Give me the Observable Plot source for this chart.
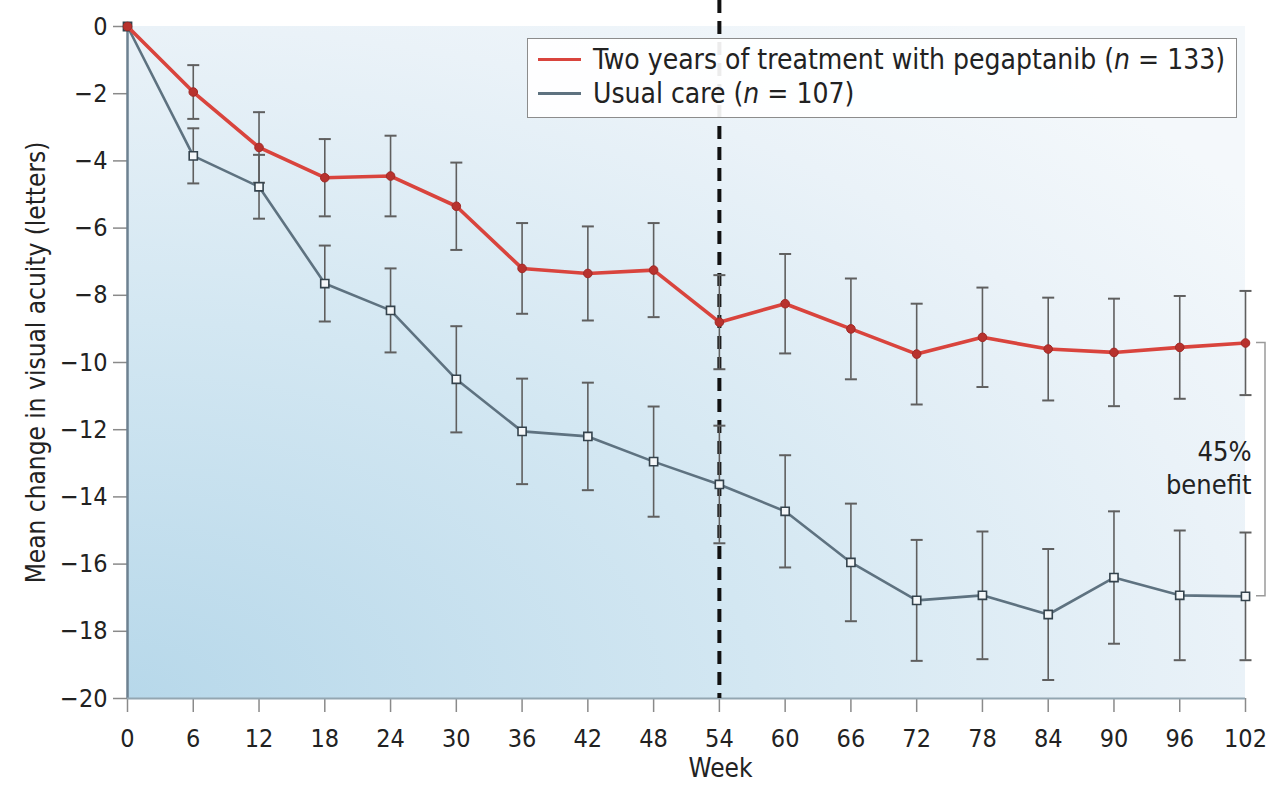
<!DOCTYPE html>
<html>
<head>
<meta charset="utf-8">
<script src="https://cdn.jsdelivr.net/npm/d3@7"></script>
<script src="https://cdn.jsdelivr.net/npm/@observablehq/plot@0.6"></script>
<style>
  html, body { margin: 0; padding: 0; background: #fff; }
  #wrap { position: relative; width: 1276px; height: 785px; font-family: "Liberation Sans Narrow", "DejaVu Sans Condensed", "Liberation Sans", sans-serif; }
  #legend { position: absolute; left: 527px; top: 38px; width: 710px; height: 80px; border: 1.5px solid #8c8c8c; background: rgba(255,255,255,0.92); box-sizing: border-box; color: #222; font-size: 28px; }
  .row { position: absolute; left: 10px; display: flex; align-items: center; white-space: nowrap; }
  .sw { width: 43px; height: 3px; margin-right: 12px; }
</style>
</head>
<body>
<div id="wrap">
  <div id="chart"></div>
  <div id="legend">
    <div class="row" style="top:4px"><div class="sw" style="background:#d9443d"></div><span>Two years of treatment with pegaptanib (<i>n</i> = 133)</span></div>
    <div class="row" style="top:38px"><div class="sw" style="background:#5e7280"></div><span>Usual care (<i>n</i> = 107)</span></div>
  </div>
</div>
<script>
const weeks = [0, 6, 12, 18, 24, 30, 36, 42, 48, 54, 60, 66, 72, 78, 84, 90, 96, 102];
const pegMean = [0, -1.95, -3.6, -4.5, -4.45, -5.35, -7.2, -7.35, -7.25, -8.8, -8.25, -9.0, -9.75, -9.25, -9.6, -9.7, -9.55, -9.42];
const pegErr  = [0, 0.8, 1.05, 1.15, 1.2, 1.3, 1.35, 1.4, 1.4, 1.4, 1.48, 1.5, 1.5, 1.48, 1.53, 1.6, 1.53, 1.55];
const careMean = [0, -3.85, -4.77, -7.65, -8.45, -10.5, -12.05, -12.2, -12.95, -13.63, -14.43, -15.95, -17.08, -16.93, -17.5, -16.4, -16.93, -16.96];
const careErr  = [0, 0.82, 0.95, 1.13, 1.25, 1.58, 1.57, 1.6, 1.64, 1.75, 1.67, 1.75, 1.8, 1.9, 1.95, 1.97, 1.93, 1.9];
const yTicks = [0, -2, -4, -6, -8, -10, -12, -14, -16, -18, -20];
const xTicks = weeks;
const cutoffWeek = 54;
const benefitLabel = "45%\nbenefit";
const yLabel = "Mean change in visual acuity (letters)";
const xLabel = "Week";

const peg = weeks.map((w, i) => ({week: w, mean: pegMean[i], lo: pegMean[i] - pegErr[i], hi: pegMean[i] + pegErr[i], err: pegErr[i]}));
const care = weeks.map((w, i) => ({week: w, mean: careMean[i], lo: careMean[i] - careErr[i], hi: careMean[i] + careErr[i], err: careErr[i]}));
const bars = [...care, ...peg].filter(d => d.err > 0);

const cap = { draw(ctx, size) { const w = Math.sqrt(size / Math.PI); ctx.moveTo(-w, 0); ctx.lineTo(w, 0); } };

const FONT = '"Liberation Sans Narrow", "DejaVu Sans Condensed", "Liberation Sans", sans-serif';

function background(index, scales, values, dims) {
  const g = d3.create("svg:g");
  const defs = g.append("defs");
  const rg = defs.append("radialGradient").attr("id", "bgGrad")
    .attr("cx", "0").attr("cy", "1").attr("r", "1.25").attr("fx", "0").attr("fy", "1");
  rg.append("stop").attr("offset", "0").attr("stop-color", "#b7d8ea");
  rg.append("stop").attr("offset", "0.45").attr("stop-color", "#d3e7f2");
  rg.append("stop").attr("offset", "0.8").attr("stop-color", "#eaf2f8");
  rg.append("stop").attr("offset", "1").attr("stop-color", "#f4f8fb");
  g.append("rect")
    .attr("x", dims.marginLeft).attr("y", dims.marginTop)
    .attr("width", dims.width - dims.marginLeft - dims.marginRight)
    .attr("height", dims.height - dims.marginTop - dims.marginBottom)
    .attr("fill", "url(#bgGrad)");
  return g.node();
}

function bracket(index, scales) {
  const last = weeks.length - 1;
  const X = scales.x(weeks[last]);
  const y1 = scales.y(pegMean[last]), y2 = scales.y(careMean[last]);
  const g = d3.create("svg:g");
  g.append("path")
    .attr("d", `M${X + 11},${y1}H${X + 20}V${y2}H${X + 11}`)
    .attr("fill", "none").attr("stroke", "#9a9a9a").attr("stroke-width", 1.5);
  return g.node();
}

const chart = Plot.plot({
  width: 1276,
  height: 785,
  marginLeft: 127,
  marginRight: 31,
  marginTop: 26,
  marginBottom: 87,
  style: {fontFamily: FONT, fontSize: "25px", color: "#222", background: "transparent", overflow: "visible"},
  x: {domain: [0, 102], ticks: xTicks, label: null},
  y: {domain: [-20, 0], ticks: yTicks, label: null},
  marks: [
    background,
    Plot.axisY({ticks: yTicks, tickSize: 14, tickPadding: 6, stroke: "#8a8a8a", strokeWidth: 1.5, tickFormat: d => d === 0 ? "0" : "\u2212" + Math.abs(d), fontSize: 25, fill: "#222", label: null}),
    Plot.axisX({ticks: xTicks, tickSize: 14, tickPadding: 17, stroke: "#8a8a8a", strokeWidth: 1.5, fontSize: 25, fill: "#222", label: null}),
    Plot.ruleX([0], {stroke: "#6d8190", strokeWidth: 2.5}),
    Plot.ruleY([-20], {stroke: "#93a6b1", strokeWidth: 2}),
    Plot.ruleX([cutoffWeek], {stroke: "#111", strokeWidth: 4, strokeDasharray: "13,8", insetTop: -26}),
    Plot.ruleX(bars, {x: "week", y1: "lo", y2: "hi", stroke: "#5f5f5f", strokeWidth: 1.6}),
    Plot.dot(bars, {x: "week", y: "lo", symbol: cap, r: 6, stroke: "#5f5f5f", strokeWidth: 2}),
    Plot.dot(bars, {x: "week", y: "hi", symbol: cap, r: 6, stroke: "#5f5f5f", strokeWidth: 2}),
    Plot.line(care, {x: "week", y: "mean", stroke: "#5e7280", strokeWidth: 2.6}),
    Plot.dot(care, {x: "week", y: "mean", symbol: "square", r: 4.6, fill: "#f4f7f9", stroke: "#34434d", strokeWidth: 1.6}),
    Plot.line(peg, {x: "week", y: "mean", stroke: "#d9443d", strokeWidth: 3.6}),
    Plot.dot(peg, {x: "week", y: "mean", r: 4.3, fill: "#b8322e", stroke: "#a02a27", strokeWidth: 1}),
    bracket,
    Plot.text([benefitLabel], {x: weeks[weeks.length - 1], y: (pegMean[pegMean.length - 1] + careMean[careMean.length - 1]) / 2, dx: 6, dy: -3, textAnchor: "end", lineHeight: 1.25, fontSize: 27, fill: "#222"}),
    Plot.text([yLabel], {frameAnchor: "left", textAnchor: "middle", rotate: -90, dx: -91, fontSize: 26, fill: "#222"}),
    Plot.text([xLabel], {frameAnchor: "bottom", dx: 34, dy: 70, lineAnchor: "middle", fontSize: 26, fill: "#222"})
  ]
});
document.getElementById("chart").appendChild(chart);
</script>
</body>
</html>
